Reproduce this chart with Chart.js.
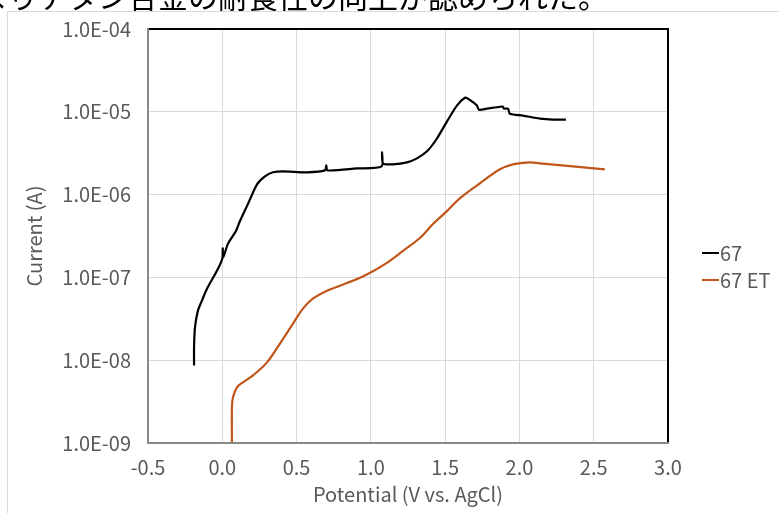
<!DOCTYPE html>
<html><head><meta charset="utf-8">
<script src="https://cdn.jsdelivr.net/npm/chart.js@4.4.0/dist/chart.umd.min.js"></script>
<style>html,body{margin:0;padding:0;background:#fff;overflow:hidden}</style>
</head><body>
<canvas id="c" width="779" height="513"></canvas>
<script>
const seriesNames = ['67', '67 ET'];
const seriesColors = ['#000000', '#C0561A'];

const potential67 = [-0.190,-0.190,-0.184,-0.164,-0.137,-0.103,-0.036,0.000,0.003,0.006,0.038,0.092,0.119,0.166,0.234,0.287,0.341,0.408,0.570,0.691,0.700,0.708,0.906,1.072,1.075,1.082,1.149,1.243,1.310,1.378,1.445,1.512,1.579,1.633,1.653,1.714,1.727,1.781,1.869,1.889,1.896,1.923,1.936,2.024,2.138,2.225,2.313];
const current67 = [8.65e-9,1.43e-8,2.48e-8,3.97e-8,5.24e-8,7.29e-8,1.20e-7,1.68e-7,2.25e-7,1.75e-7,2.54e-7,3.63e-7,4.79e-7,7.26e-7,1.33e-6,1.66e-6,1.86e-6,1.91e-6,1.86e-6,1.96e-6,2.25e-6,1.96e-6,2.07e-6,2.19e-6,3.24e-6,2.38e-6,2.32e-6,2.45e-6,2.74e-6,3.33e-6,4.76e-6,7.62e-6,1.19e-5,1.48e-5,1.44e-5,1.19e-5,1.06e-5,1.09e-5,1.15e-5,1.15e-5,1.09e-5,1.09e-5,9.50e-6,8.99e-6,8.28e-6,8.05e-6,8.05e-6];

const potential67ET = [0.065,0.065,0.072,0.099,0.139,0.207,0.301,0.388,0.476,0.543,0.610,0.705,0.792,0.927,1.007,1.108,1.216,1.330,1.418,1.512,1.600,1.734,1.869,1.956,2.071,2.138,2.360,2.575];
const current67ET = [1.0e-9,2.71e-9,3.57e-9,4.71e-9,5.41e-9,6.56e-9,9.42e-9,1.59e-8,2.77e-8,4.20e-8,5.53e-8,6.90e-8,7.93e-8,9.89e-8,1.17e-7,1.50e-7,2.09e-7,2.99e-7,4.41e-7,6.31e-7,9.06e-7,1.37e-6,2.02e-6,2.32e-6,2.45e-6,2.38e-6,2.19e-6,2.02e-6];

const xTickValues = [-0.5,0.0,0.5,1.0,1.5,2.0,2.5,3.0];
const xTickLabels = ['-0.5','0.0','0.5','1.0','1.5','2.0','2.5','3.0'];
const yTickValues = [1e-9,1e-8,1e-7,1e-6,1e-5,1e-4];
const yTickLabels = ['1.0E-09','1.0E-08','1.0E-07','1.0E-06','1.0E-05','1.0E-04'];
const xTitle = 'Potential (V vs. AgCl)';
const yTitle = 'Current (A)';
const headingText = 'よりチタン合金の耐食性の向上が認められた。';

const FONT = '"Noto Sans CJK JP", sans-serif';
const TXT = '#595959';

function pts(xs, ys){ return xs.map((x,i)=>({x:x, y:ys[i]})); }

const decor = {
  id:'decor',
  beforeDraw(chart){
    const ctx = chart.ctx;
    ctx.save();
    ctx.fillStyle = '#000';
    ctx.font = '30px "Noto Sans CJK JP"';
    ctx.textBaseline = 'alphabetic';
    ctx.textAlign = 'left';
    ctx.fillText(headingText, -22, 8);
    ctx.strokeStyle = '#d9d9d9';
    ctx.lineWidth = 1;
    ctx.beginPath();
    ctx.moveTo(7.5, 513); ctx.lineTo(7.5, 11.5); ctx.lineTo(779, 11.5);
    ctx.stroke();
    ctx.restore();
  },
  afterDraw(chart){
    const ctx = chart.ctx, a = chart.chartArea;
    ctx.save();
    ctx.lineWidth = 2;
    ctx.strokeStyle = '#000';
    ctx.beginPath();
    ctx.moveTo(a.left, a.top); ctx.lineTo(a.right, a.top); ctx.lineTo(a.right, a.bottom);
    ctx.stroke();
    ctx.strokeStyle = '#898989';
    ctx.beginPath();
    ctx.moveTo(a.left, a.top-1); ctx.lineTo(a.left, a.bottom); ctx.lineTo(a.right+1, a.bottom);
    ctx.stroke();
    // legend
    ctx.font = '20px ' + FONT;
    ctx.textBaseline = 'middle';
    ctx.textAlign = 'left';
    chart.data.datasets.forEach((ds, i) => {
      const y = 253 + i*27;
      ctx.strokeStyle = ds.borderColor;
      ctx.lineWidth = 2;
      ctx.beginPath(); ctx.moveTo(702, y); ctx.lineTo(719, y); ctx.stroke();
      ctx.fillStyle = TXT;
      ctx.fillText(ds.label, 720, y);
    });
    ctx.restore();
  }
};

new Chart(document.getElementById('c'), {
  type:'scatter',
  data:{ datasets:[
    {label:seriesNames[0], data:pts(potential67,current67), borderColor:seriesColors[0], backgroundColor:seriesColors[0], showLine:true, pointRadius:0, borderWidth:2.2, tension:0.25},
    {label:seriesNames[1], data:pts(potential67ET,current67ET), borderColor:seriesColors[1], backgroundColor:seriesColors[1], showLine:true, pointRadius:0, borderWidth:2.2, tension:0.35}
  ]},
  options:{
    responsive:false, animation:false, devicePixelRatio:1,
    layout:{padding:{top:27,right:111,left:0,bottom:0}},
    plugins:{legend:{display:false}, tooltip:{enabled:false}},
    scales:{
      x:{type:'linear', min:-0.5, max:3.0,
        afterBuildTicks(s){ s.ticks = xTickValues.map(v=>({value:v})); },
        afterFit(s){ s.height = 70; },
        ticks:{padding:12, color:TXT, font:{family:FONT, size:20}, callback:(v)=>xTickLabels[xTickValues.indexOf(v)]},
        grid:{color:'#d9d9d9', lineWidth:1, drawTicks:false},
        border:{display:false},
        title:{display:true, text:xTitle, color:TXT, font:{family:FONT, size:20}, padding:{top:4,bottom:7}}
      },
      y:{type:'logarithmic', min:1e-9, max:1e-4,
        afterBuildTicks(s){ s.ticks = yTickValues.map(v=>({value:v})); },
        afterFit(s){ s.width = 148; },
        ticks:{padding:17, color:TXT, font:{family:FONT, size:20}, callback:(v)=>yTickLabels[yTickValues.indexOf(v)]},
        grid:{color:'#d9d9d9', lineWidth:1, drawTicks:false},
        border:{display:false},
        title:{display:true, text:yTitle, color:TXT, font:{family:FONT, size:20}, padding:{top:22,bottom:0}}
      }
    }
  },
  plugins:[decor]
});
</script>
</body></html>
